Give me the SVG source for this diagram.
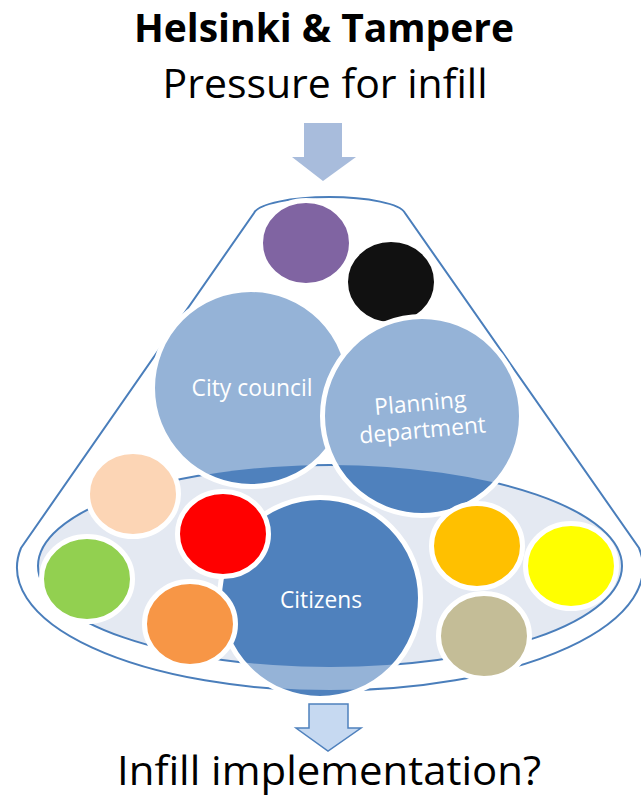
<svg xmlns="http://www.w3.org/2000/svg" width="641" height="799" viewBox="0 0 641 799">
<style>
  .title{font-family:"Open Sans","Liberation Sans",sans-serif;fill:#000;text-anchor:middle}
  .lbl{font-family:"Open Sans","Liberation Sans",sans-serif;fill:#fff;text-anchor:middle}
  .cone{fill:#fff;stroke:#4A7EBB;stroke-width:2}
  .inner{fill:#E4E9F2;stroke:#4A7EBB;stroke-width:2}
  .big{fill:#95B3D7}
  .dark{fill:#4F81BD}
  .ring{fill:none;stroke:#fff;stroke-width:5}
  .small{stroke:#fff;stroke-width:5}
</style>
<defs>
  <clipPath id="inClip"><ellipse cx="330" cy="566" rx="292" ry="101"/></clipPath>
  <clipPath id="outClip"><path clip-rule="evenodd" d="M0,0H641V799H0Z M17,567 A313 123 0 1 0 643,567 A313 123 0 1 0 17,567Z"/></clipPath>
</defs>
<rect width="641" height="799" fill="#fff"/>

<g id="titles">
  <text class="title" x="324" y="42" font-size="40" font-weight="bold" textLength="380" lengthAdjust="spacingAndGlyphs">Helsinki &amp; Tampere</text>
  <text class="title" x="325" y="98" font-size="41" textLength="325" lengthAdjust="spacingAndGlyphs">Pressure for infill</text>
  <text class="title" x="329" y="785" font-size="41" textLength="424" lengthAdjust="spacingAndGlyphs">Infill implementation?</text>
</g>

<g id="cone">
  <path class="cone" d="M21,548 L254,213 A76 18 0 0 1 405,213 L639,548 A313 123 0 1 1 21,548 Z"/>
  <ellipse class="inner" cx="330" cy="566" rx="292" ry="101"/>
</g>

<g id="connectors">
  <path d="M304,123 H342 V157 H356 L323,181 L292,157 H304 Z" fill="#A8BCDC"/>
  <path d="M309,704 H348 V728 H361 L328,751 L296,728 H309 Z" fill="#C6D9F1" stroke="#4F81BD" stroke-width="1.5" stroke-linejoin="miter"/>
</g>

<g id="purple"><ellipse class="small" cx="306" cy="243" rx="45.5" ry="42.5" fill="#8064A2"/></g>
<g id="black"><ellipse class="small" cx="391" cy="282" rx="45.5" ry="42.5" fill="#111111"/></g>

<g id="city-council">
  <circle class="big" cx="251" cy="388" r="98.5"/>
  <circle class="dark" cx="251" cy="388" r="98.5" clip-path="url(#inClip)"/>
  <circle class="ring" cx="251" cy="388" r="98.5"/>
  <text class="lbl" x="252" y="396" font-size="23" textLength="121" lengthAdjust="spacingAndGlyphs">City council</text>
</g>

<g id="planning-department">
  <circle class="big" cx="422" cy="416" r="99.5"/>
  <circle class="dark" cx="422" cy="416" r="99.5" clip-path="url(#inClip)"/>
  <circle class="ring" cx="422" cy="416" r="99.5"/>
  <g transform="rotate(-5 422 424)">
    <text class="lbl" x="422" y="411" font-size="23" textLength="92" lengthAdjust="spacingAndGlyphs">Planning</text>
    <text class="lbl" x="422" y="438" font-size="23" textLength="127" lengthAdjust="spacingAndGlyphs">department</text>
  </g>
</g>

<g id="citizens">
  <circle class="big" cx="320" cy="598" r="100.5"/>
  <circle class="dark" cx="320" cy="598" r="100.5" clip-path="url(#inClip)"/>
  <circle class="dark" cx="320" cy="598" r="100.5" clip-path="url(#outClip)"/>
  <circle class="ring" cx="320" cy="598" r="100.5"/>
  <text class="lbl" x="321" y="608" font-size="23" textLength="82" lengthAdjust="spacingAndGlyphs">Citizens</text>
</g>

<g id="peach"><ellipse class="small" cx="133" cy="494" rx="45.5" ry="42.5" fill="#FCD5B5"/></g>
<g id="red"><ellipse class="small" cx="223" cy="534" rx="45.5" ry="42.5" fill="#FF0000"/></g>
<g id="green"><ellipse class="small" cx="87" cy="579" rx="45.5" ry="42.5" fill="#92D050"/></g>
<g id="orange"><ellipse class="small" cx="190" cy="624" rx="45.5" ry="42.5" fill="#F79646"/></g>
<g id="gold"><ellipse class="small" cx="477" cy="546" rx="45.5" ry="42.5" fill="#FFC000"/></g>
<g id="yellow"><ellipse class="small" cx="571" cy="566" rx="45.5" ry="42.5" fill="#FFFF00"/></g>
<g id="khaki"><ellipse class="small" cx="484" cy="636" rx="45.5" ry="42.5" fill="#C4BD97"/></g>
</svg>
